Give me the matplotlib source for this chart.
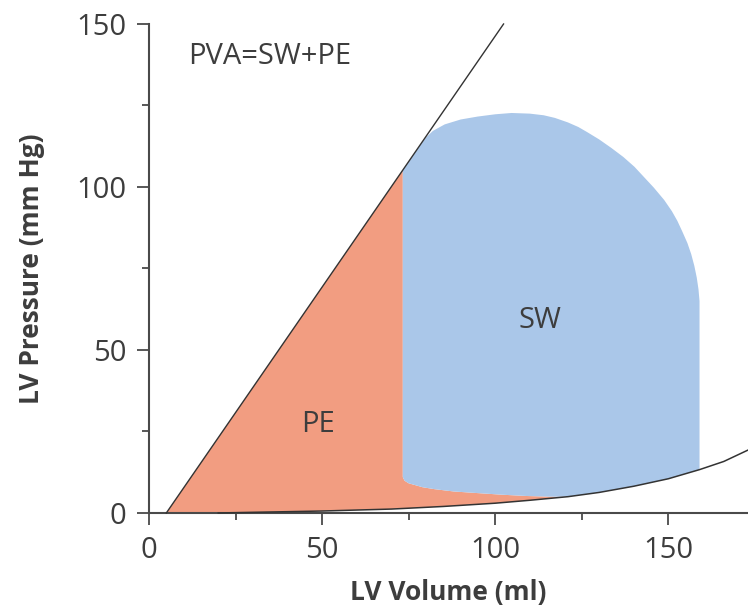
import matplotlib
matplotlib.use("Agg")
import matplotlib.pyplot as plt
from matplotlib.ticker import MultipleLocator

# ---- data ----
espvr_v = [5, 102.4]
espvr_p = [0, 150]

edpvr_v = [20, 30, 50, 70, 85, 100, 110, 121, 130, 140, 150, 159, 166, 173]
edpvr_p = [0.0, 0.2, 0.6, 1.2, 2.0, 3.0, 3.9, 5.0, 6.3, 8.2, 10.5, 13.3, 15.8, 19.3]

# SW (stroke work) loop: upper boundary from the ESPVR to the right edge
sw_top_v = [73.3, 78.2, 80, 82, 85.4, 90, 94.9, 100, 104.7, 110, 114, 117.2, 121, 124,
            126.6, 130, 133.5, 137, 140.2, 143, 145.8, 148.8, 151, 152.6, 154, 155.5,
            156.6, 157.5, 158.2, 158.7, 159]
sw_top_p = [105.2, 112.7, 115.2, 117.2, 119.2, 120.7, 121.6, 122.3, 122.7, 122.5, 122.0,
            121.2, 119.8, 118.4, 116.8, 114.6, 112.0, 109.2, 106.2, 103.0, 99.8, 96.0,
            92.6, 89.6, 86.4, 82.8, 79.4, 75.8, 72.2, 68.6, 65.0]
# SW loop lower boundary (left part, above the EDPVR)
sw_bot_v = [73.3, 73.8, 75, 76.7, 79, 82.5, 88, 94.9, 102, 109.3, 116, 121]
sw_bot_p = [11.0, 9.9, 9.1, 8.6, 7.9, 7.3, 6.6, 6.1, 5.6, 5.2, 5.0, 5.0]
sw_right_v = 159

x_ticks = [0, 50, 100, 150]
y_ticks = [0, 50, 100, 150]

pe_color = "#F29D81"
sw_color = "#AAC7E9"
text_color = "#3d3d3d"
axis_color = "#4a4a4a"

plt.rcParams['font.family'] = ['Open Sans', 'DejaVu Sans']

fig = plt.figure(figsize=(7.48, 6.12), dpi=100)
ax = fig.add_axes([0.1992, 0.1618, 0.8008, 0.799])

# SW polygon
ed_right = [(v, p) for v, p in zip(edpvr_v, edpvr_p) if 121 < v <= sw_right_v]
sw_poly_v = list(sw_top_v) + [sw_right_v] + [v for v, _ in ed_right][::-1] + sw_bot_v[::-1]
sw_poly_p = list(sw_top_p) + [sw_top_p[-1]] + [p for _, p in ed_right][::-1] + sw_bot_p[::-1]

# PE polygon
ed_left = [(v, p) for v, p in zip(edpvr_v, edpvr_p) if v <= 121]
pe_poly_v = [espvr_v[0], sw_top_v[0]] + sw_bot_v + [v for v, _ in ed_left][::-1]
pe_poly_p = [espvr_p[0], sw_top_p[0]] + sw_bot_p + [p for _, p in ed_left][::-1]

ax.fill(pe_poly_v, pe_poly_p, color=pe_color, lw=0, zorder=1)
ax.fill(sw_poly_v, sw_poly_p, color=sw_color, lw=0, zorder=2)

ax.plot(espvr_v, espvr_p, color="#333333", lw=1.0, zorder=3, clip_on=False)
ax.plot(edpvr_v, edpvr_p, color="#333333", lw=1.1, zorder=3, clip_on=False)

ax.set_xlim(0, 173)
ax.set_ylim(0, 150)

for s in ["top", "right"]:
    ax.spines[s].set_visible(False)
for s in ["left", "bottom"]:
    ax.spines[s].set_color(axis_color)
    ax.spines[s].set_linewidth(1.5)

ax.set_xticks(x_ticks)
ax.set_yticks(y_ticks)
ax.xaxis.set_minor_locator(MultipleLocator(25))
ax.yaxis.set_minor_locator(MultipleLocator(25))
ax.tick_params(which="major", length=8.5, width=1.3, color=axis_color,
               labelsize=21, labelcolor=text_color, pad=8)
ax.tick_params(which="minor", length=5, width=1.3, color=axis_color)

ax.set_xlabel("LV Volume (ml)", fontsize=19, fontweight="bold", color=text_color, labelpad=10)
ax.set_ylabel("LV Pressure (mm Hg)", fontsize=19, fontweight="bold", color=text_color, labelpad=22)

ax.text(11.2, 140, "PVA=SW+PE", fontsize=21, color=text_color, va="center", ha="left")
ax.text(113, 59, "SW", fontsize=21, color=text_color, va="center", ha="center")
ax.text(48.7, 27, "PE", fontsize=21, color=text_color, va="center", ha="center")

fig.savefig("out.png", dpi=100)
